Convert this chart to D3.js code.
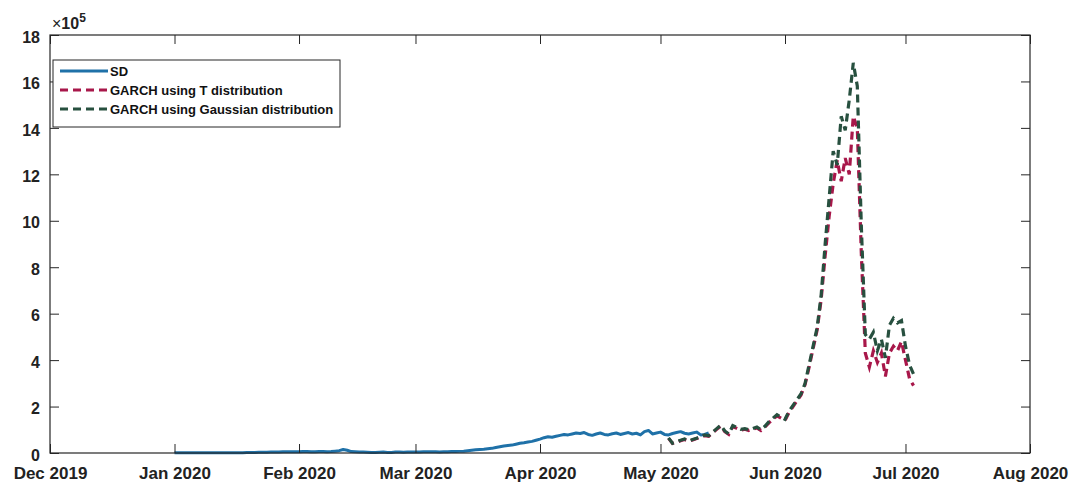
<!DOCTYPE html>
<html>
<head>
<meta charset="utf-8">
<script src="https://cdn.jsdelivr.net/npm/d3@7"></script>
<style>
  html, body { margin: 0; padding: 0; background: #fff; }
  svg { display: block; }
  text { font-family: "Liberation Sans", Arial, Helvetica, sans-serif; }
</style>
</head>
<body>
<svg id="chart" width="1073" height="483"></svg>
<script>
// Daily standard deviation series (units of 1e5), starting 1 Jan 2020
const sdStart = "2020-01-01";
const sdValues = [
  0.01,0.01,0.01,0.01,0.01,0.01,0.01,0.01,0.01,0.01,
  0.01,0.01,0.01,0.01,0.01,0.01,0.01,0.01,0.02,0.02,
  0.02,0.03,0.03,0.03,0.04,0.04,0.04,0.05,0.05,0.05,0.05,
  0.05,0.06,0.06,0.05,0.05,0.06,0.06,0.05,0.06,0.08,
  0.10,0.15,0.12,0.06,0.05,0.04,0.04,0.03,0.02,0.02,
  0.03,0.04,0.02,0.02,0.04,0.04,0.03,0.04,0.04,
  0.04,0.04,0.05,0.05,0.05,0.05,0.04,0.05,0.05,0.06,
  0.06,0.07,0.08,0.10,0.12,0.14,0.15,0.16,0.18,0.20,
  0.24,0.27,0.30,0.32,0.34,0.38,0.42,0.44,0.47,0.50,0.55,
  0.60,0.66,0.70,0.68,0.72,0.76,0.80,0.78,0.82,0.86,
  0.84,0.88,0.80,0.76,0.82,0.86,0.80,0.78,0.83,0.86,
  0.80,0.84,0.88,0.82,0.85,0.78,0.92,0.97,0.82,0.86,
  0.90,0.80,0.78,0.84,0.88,0.92,0.85,0.82,0.86,0.90,
  0.78,0.80,0.86
];

// GARCH volatility forecasts (units of 1e5), starting 3 May 2020
const garchStart = "2020-05-03";
const garchT = [
  0.63,0.41,0.46,0.53,0.58,0.50,0.56,0.62,0.68,0.75,
  0.72,0.87,1.02,1.16,0.92,0.80,1.14,1.06,0.98,1.02,
  0.97,1.02,1.08,0.97,1.12,1.30,1.45,1.60,1.50,
  1.40,1.75,2.00,2.25,2.50,2.95,3.70,4.50,5.30,6.6,
  8.5,10.2,11.6,12.6,11.7,12.7,12.0,14.5,14.0,8.6,
  4.3,3.7,4.4,3.9,4.3,3.3,4.3,4.6,4.4,4.8,
  4.0,3.2,2.9
];
const garchGauss = [
  0.65,0.42,0.48,0.55,0.60,0.52,0.58,0.64,0.70,0.78,
  0.74,0.90,1.05,1.20,0.95,0.82,1.18,1.10,1.02,1.05,
  1.00,1.05,1.12,1.00,1.15,1.35,1.50,1.65,1.55,
  1.45,1.80,2.05,2.30,2.55,3.00,3.80,4.60,5.40,6.8,
  9.0,11.0,13.0,12.4,14.5,13.9,15.2,16.8,15.8,9.8,
  5.1,4.9,5.2,4.4,4.9,4.1,5.5,5.8,5.6,5.7,
  4.6,3.8,3.4
];

const monthTicks = ["2019-12-01","2020-01-01","2020-02-01","2020-03-01","2020-04-01",
                    "2020-05-01","2020-06-01","2020-07-01","2020-08-01"];
const yTicks = [0,2,4,6,8,10,12,14,16,18];
const seriesNames = ["SD", "GARCH using T distribution", "GARCH using Gaussian distribution"];
const seriesColors = ["#1f71a8", "#a8174a", "#27503f"];

const parse = d3.timeParse("%Y-%m-%d");
const toPoints = (start, vals) => vals.map((v, i) => ({ date: d3.timeDay.offset(parse(start), i), value: v }));

const sdData = toPoints(sdStart, sdValues);
const tData = toPoints(garchStart, garchT);
const gData = toPoints(garchStart, garchGauss);

const svg = d3.select("#chart");
const plotLeft = 50, plotRight = 1030, plotTop = 35, plotBottom = 453;

const x = d3.scaleTime()
  .domain([parse(monthTicks[0]), parse(monthTicks[monthTicks.length - 1])])
  .range([plotLeft, plotRight]);
const y = d3.scaleLinear().domain([0, 18]).range([plotBottom, plotTop]);

const axisColor = "#262626";
const tickLen = 9;

// Lines
const line = d3.line().x(d => x(d.date)).y(d => y(d.value));
const plot = svg.append("g");
plot.append("path").datum(sdData)
  .attr("fill", "none").attr("stroke", seriesColors[0])
  .attr("stroke-width", 3).attr("stroke-linejoin", "round")
  .attr("d", line);
plot.append("path").datum(tData)
  .attr("fill", "none").attr("stroke", seriesColors[1])
  .attr("stroke-width", 3.2).attr("stroke-dasharray", "8,5")
  .attr("d", line);
plot.append("path").datum(gData)
  .attr("fill", "none").attr("stroke", seriesColors[2])
  .attr("stroke-width", 3.2).attr("stroke-dasharray", "8,5")
  .attr("d", line);

// Axes (ticks point inward, box on all sides)
const tickDates = monthTicks.map(parse);
const fmt = d3.timeFormat("%b %Y");

function styleAxis(g, showLabels, size) {
  g.select(".domain").remove();
  g.selectAll(".tick line").attr("stroke", axisColor).attr("stroke-width", 1);
  g.selectAll(".tick text")
    .attr("fill", showLabels ? "#222" : "none")
    .style("font-size", size + "px").style("font-weight", "bold");
}

svg.append("g").attr("transform", `translate(0,${plotBottom})`)
  .call(d3.axisBottom(x).tickValues(tickDates).tickFormat(fmt).tickSize(-tickLen).tickPadding(14))
  .call(g => styleAxis(g, true, 17));
svg.append("g").attr("transform", `translate(0,${plotTop})`)
  .call(d3.axisTop(x).tickValues(tickDates).tickFormat("").tickSize(-tickLen))
  .call(g => styleAxis(g, false, 17));
svg.append("g").attr("transform", `translate(${plotLeft},0)`)
  .call(d3.axisLeft(y).tickValues(yTicks).tickSize(-tickLen).tickPadding(10))
  .call(g => styleAxis(g, true, 16))
  .call(g => g.selectAll(".tick text").attr("dy", "0.45em"));
svg.append("g").attr("transform", `translate(${plotRight},0)`)
  .call(d3.axisRight(y).tickValues(yTicks).tickFormat("").tickSize(-tickLen))
  .call(g => styleAxis(g, false, 16));

svg.append("rect")
  .attr("x", plotLeft).attr("y", plotTop)
  .attr("width", plotRight - plotLeft).attr("height", plotBottom - plotTop)
  .attr("fill", "none").attr("stroke", axisColor).attr("stroke-width", 1.2);

// Exponent label
const expo = svg.append("text").attr("x", plotLeft + 2).attr("y", 29)
  .attr("fill", "#222").style("font-size", "16px").style("font-weight", "bold");
expo.append("tspan").style("font-weight", "normal").text("\u00d7");
expo.append("tspan").text("10");
expo.append("tspan").attr("dy", -7).style("font-size", "12px").text("5");

// Legend
const lg = svg.append("g");
lg.append("rect").attr("x", 53).attr("y", 60).attr("width", 287).attr("height", 67)
  .attr("fill", "#fff").attr("stroke", axisColor).attr("stroke-width", 1);
seriesNames.forEach((name, i) => {
  const yy = 71 + i * 19;
  lg.append("line").attr("x1", 60).attr("x2", 108).attr("y1", yy).attr("y2", yy)
    .attr("stroke", seriesColors[i]).attr("stroke-width", 3)
    .attr("stroke-dasharray", i === 0 ? null : "8,5");
  lg.append("text").attr("x", 110).attr("y", yy + 5)
    .attr("fill", "#111").style("font-size", "13px").style("font-weight", "bold")
    .text(name);
});
</script>
</body>
</html>
